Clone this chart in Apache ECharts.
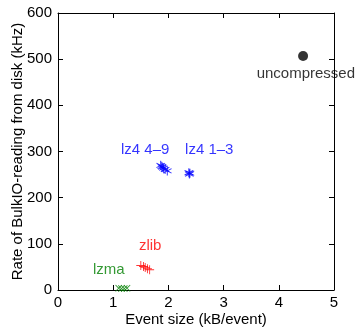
<!DOCTYPE html>
<html><head><meta charset="utf-8">
<script src="https://cdn.jsdelivr.net/npm/echarts@6/dist/echarts.min.js"></script>
<style>html,body{margin:0;padding:0;background:#fff}#c{width:357px;height:328px}</style>
</head><body><div id="c"></div>
<script>
const xTicks = [0, 1, 2, 3, 4, 5];
const yTicks = [0, 100, 200, 300, 400, 500, 600];
const uncompressed = [[4.44, 507]];
const lz4_1_3 = [[2.38, 251], [2.39, 253], [2.37, 254]];
const lz4_4_9 = [[1.86, 270], [1.88, 268], [1.89, 266], [1.91, 264], [1.94, 261], [1.98, 258]];
const zlib = [[1.50, 53], [1.55, 51], [1.58, 49], [1.62, 46], [1.66, 44]];
const lzma = [[1.10, 4], [1.15, 3], [1.20, 3], [1.25, 4]];
const labelNames = ['uncompressed', 'lz4 4\u20139', 'lz4 1\u20133', 'zlib', 'lzma'];
const labelPos = [[4.49, 468], [1.58, 304], [2.74, 304], [1.67, 96], [0.92, 44]];
const labelColors = ['#000000', '#0000ff', '#0000ff', '#ff0000', '#008000'];

const STAR = 'path://M9 0 L11 0 L11 20 L9 20 Z M0.84 5.87 L1.84 4.13 L19.16 14.13 L18.16 15.87 Z M1.84 15.87 L0.84 14.13 L18.16 4.13 L19.16 5.87 Z';
const PLUS = 'path://M9 0 L11 0 L11 9 L20 9 L20 11 L11 11 L11 20 L9 20 L9 11 L0 11 L0 9 L9 9 Z';
const FONT = 'Liberation Sans';
const FS = 15;

const chart = echarts.init(document.getElementById('c'), null, {renderer: 'canvas'});
const axisCommon = () => ({
  axisLine: {show: true, onZero: false, lineStyle: {color: '#000', width: 1}},
  axisTick: {show: true, inside: true, length: 5, lineStyle: {color: '#000'}},
  splitLine: {show: false}
});
chart.setOption({
  animation: false,
  textStyle: {fontFamily: FONT},
  grid: {left: 58, right: 23, top: 13, bottom: 38, containLabel: false, outerBoundsMode: 'none'},
  xAxis: [
    Object.assign({type: 'value', min: xTicks[0], max: xTicks[xTicks.length - 1], interval: 1,
      name: 'Event size (kB/event)', nameLocation: 'middle', nameGap: 22, nameMoveOverlap: false,
      nameTextStyle: {color: '#000', fontSize: FS, fontFamily: FONT},
      axisLabel: {color: '#000', fontSize: FS, fontFamily: FONT, margin: 5}}, axisCommon()),
    Object.assign({type: 'value', position: 'top', min: 0, max: 5, interval: 1,
      axisLabel: {show: false}}, axisCommon())
  ],
  yAxis: [
    Object.assign({type: 'value', min: yTicks[0], max: yTicks[yTicks.length - 1], interval: 100,
      name: 'Rate of BulkIO-reading from disk (kHz)', nameLocation: 'middle', nameGap: 33, nameMoveOverlap: false,
      nameTextStyle: {color: '#000', fontSize: FS, fontFamily: FONT},
      axisLabel: {color: '#000', fontSize: FS, fontFamily: FONT, margin: 6}}, axisCommon()),
    Object.assign({type: 'value', position: 'right', min: 0, max: 600, interval: 100,
      axisLabel: {show: false}}, axisCommon())
  ],
  series: [
    {type: 'scatter', data: uncompressed, symbol: 'circle', symbolSize: 10, itemStyle: {color: '#000'}},
    {type: 'scatter', data: lz4_1_3, symbol: STAR, symbolSize: 9, itemStyle: {color: '#0000ff'}},
    {type: 'scatter', data: lz4_4_9, symbol: STAR, symbolSize: 9, itemStyle: {color: '#0000ff'}},
    {type: 'scatter', data: zlib, symbol: PLUS, symbolSize: 9, itemStyle: {color: '#ff0000'}},
    {type: 'scatter', data: lzma, symbol: PLUS, symbolRotate: 45, symbolSize: 9, itemStyle: {color: '#008000'}},
    {type: 'scatter', symbolSize: 0, silent: true,
      data: labelNames.map((n, i) => ({name: n, value: labelPos[i],
        label: {show: true, position: 'inside', formatter: n, color: labelColors[i],
          fontSize: FS, fontFamily: FONT, align: 'center', verticalAlign: 'middle'}}))}
  ]
});
</script></body></html>
